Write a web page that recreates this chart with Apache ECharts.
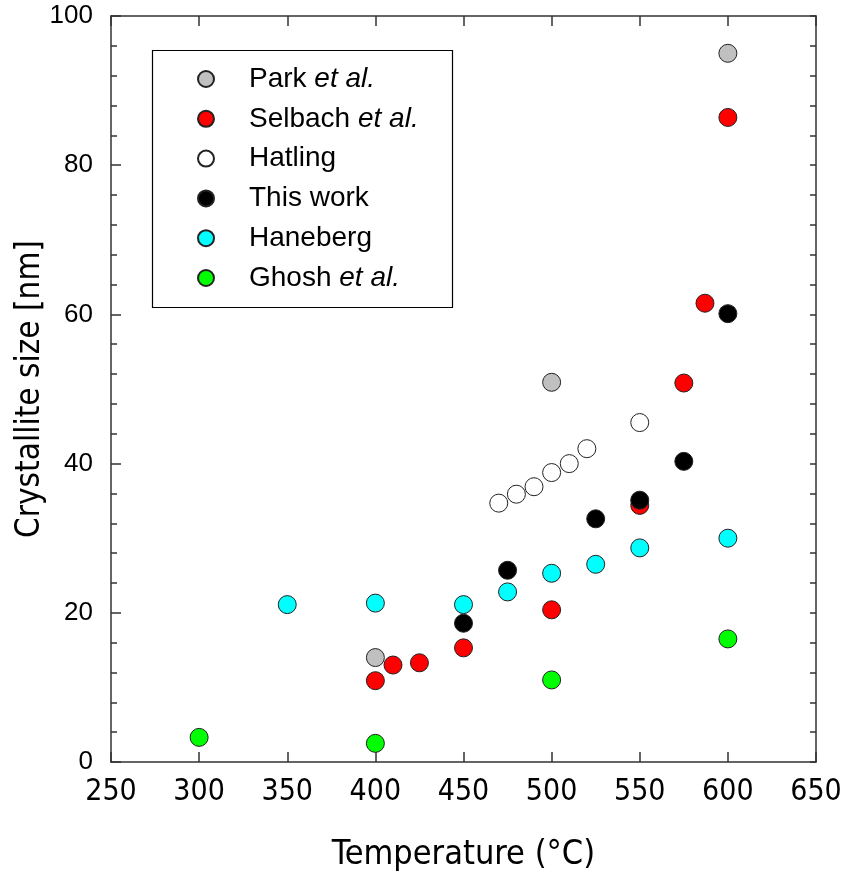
<!DOCTYPE html>
<html>
<head>
<meta charset="utf-8">
<script src="https://cdn.jsdelivr.net/npm/echarts@6/dist/echarts.min.js"></script>
<style>
  html, body { margin: 0; padding: 0; background: #fff; }
  #chart { width: 842px; height: 873px; }
</style>
</head>
<body>
<div id="chart"></div>
<script>
// [temperature °C, crystallite size nm]
var park = [[400, 14.0], [500, 50.9], [600, 95.0]];
var selbach = [[400, 10.9], [410, 13.0], [425, 13.3], [450, 15.3], [500, 20.4],
  [550, 34.4], [575, 50.8], [587, 61.5], [600, 86.4]];
var hatling = [[470, 34.7], [480, 35.9], [490, 36.9], [500, 38.8], [510, 40.0],
  [520, 42.0], [550, 45.5]];
var thisWork = [[450, 18.6], [475, 25.7], [525, 32.6], [550, 35.1], [575, 40.3], [600, 60.1]];
var haneberg = [[350, 21.1], [400, 21.3], [450, 21.1], [475, 22.8], [500, 25.3],
  [525, 26.5], [550, 28.7], [600, 30.0]];
var ghosh = [[300, 3.3], [400, 2.5], [500, 11.0], [600, 16.5]];

var seriesNames = ['Park et al.', 'Selbach et al.', 'Hatling', 'This work', 'Haneberg', 'Ghosh et al.'];
var seriesColors = ['#c0c0c0', '#ff0000', '#ffffff', '#000000', '#00ffff', '#00ff00'];
var seriesData = [park, selbach, hatling, thisWork, haneberg, ghosh];

var narrow = "'Liberation Sans Narrow', 'Arial Narrow', 'DejaVu Sans Condensed', sans-serif";
var arial = "'Liberation Sans', Arial, sans-serif";
var lineColor = '#333';

var chart = echarts.init(document.getElementById('chart'), null, { renderer: 'canvas' });

var series = seriesNames.map(function (name, i) {
  return {
    name: name,
    type: 'scatter',
    data: seriesData[i],
    symbol: 'circle',
    symbolSize: 18,
    itemStyle: { color: seriesColors[i], borderColor: '#222', borderWidth: 1, opacity: 1 },
    emphasis: { disabled: true }
  };
});

var option = {
  backgroundColor: '#ffffff',
  animation: false,
  grid: { left: 111, right: 26, top: 16, bottom: 111, outerBoundsMode: 'none', containLabel: false },
  legend: {
    orient: 'vertical',
    left: 192,
    top: 60,
    itemWidth: 16,
    itemHeight: 16,
    itemGap: 11.8,
    icon: 'circle',
    data: seriesNames,
    formatter: function (name) {
      var k = name.indexOf(' et al.');
      if (k < 0) return '{n|' + name + '}';
      return '{n|' + name.slice(0, k) + ' }{i|et al.}';
    },
    textStyle: {
      padding: [0, 0, 0, 30],
      lineHeight: 24,
      rich: {
        n: { fontSize: 28, fontFamily: arial, color: '#000', lineHeight: 24 },
        i: { fontSize: 28, fontFamily: arial, fontStyle: 'italic', color: '#000', lineHeight: 24 }
      }
    }
  },
  graphic: [{
    type: 'rect',
    left: 150, top: 48,
    shape: { width: 300, height: 257 },
    style: { fill: 'none', stroke: '#000', lineWidth: 1.2 },
    z: 10
  }],
  xAxis: [{
    type: 'value',
    position: 'bottom',
    min: 250, max: 650, interval: 50,
    name: 'Temperature (°C)',
    nameLocation: 'middle',
    nameGap: 76,
    nameMoveOverlap: false,
    nameTextStyle: { fontSize: 34, fontFamily: narrow, color: '#000' },
    axisLine: { show: true, onZero: false, lineStyle: { color: lineColor, width: 1.5 } },
    axisTick: { show: true, inside: true, length: 10, lineStyle: { color: lineColor, width: 1.5 } },
    axisLabel: { fontSize: 30, fontFamily: narrow, color: '#000', margin: 15 },
    splitLine: { show: false }
  }, {
    type: 'value',
    position: 'top',
    min: 250, max: 650, interval: 50,
    axisLine: { show: true, onZero: false, lineStyle: { color: lineColor, width: 1.5 } },
    axisTick: { show: true, inside: true, length: 10, lineStyle: { color: lineColor, width: 1.5 } },
    axisLabel: { show: false },
    splitLine: { show: false }
  }],
  yAxis: [{
    type: 'value',
    position: 'left',
    min: 0, max: 100, interval: 20,
    name: 'Crystallite size [nm]',
    nameLocation: 'middle',
    nameGap: 64,
    nameMoveOverlap: false,
    nameTextStyle: { fontSize: 33, fontFamily: narrow, color: '#000' },
    axisLine: { show: true, onZero: false, lineStyle: { color: lineColor, width: 1.5 } },
    axisTick: { show: true, inside: true, length: 10, lineStyle: { color: lineColor, width: 1.5 } },
    minorTick: { show: true, splitNumber: 5, length: 6, lineStyle: { color: lineColor, width: 1.5 } },
    axisLabel: { fontSize: 26, fontFamily: arial, color: '#000', margin: 18 },
    splitLine: { show: false },
    minorSplitLine: { show: false }
  }, {
    type: 'value',
    position: 'right',
    min: 0, max: 100, interval: 4,
    axisLine: { show: true, onZero: false, lineStyle: { color: lineColor, width: 1.5 } },
    axisTick: { show: true, inside: true, length: 6, lineStyle: { color: lineColor, width: 1.5 } },
    axisLabel: { show: false },
    splitLine: { show: false }
  }],
  series: series
};

chart.setOption(option);
</script>
</body>
</html>
